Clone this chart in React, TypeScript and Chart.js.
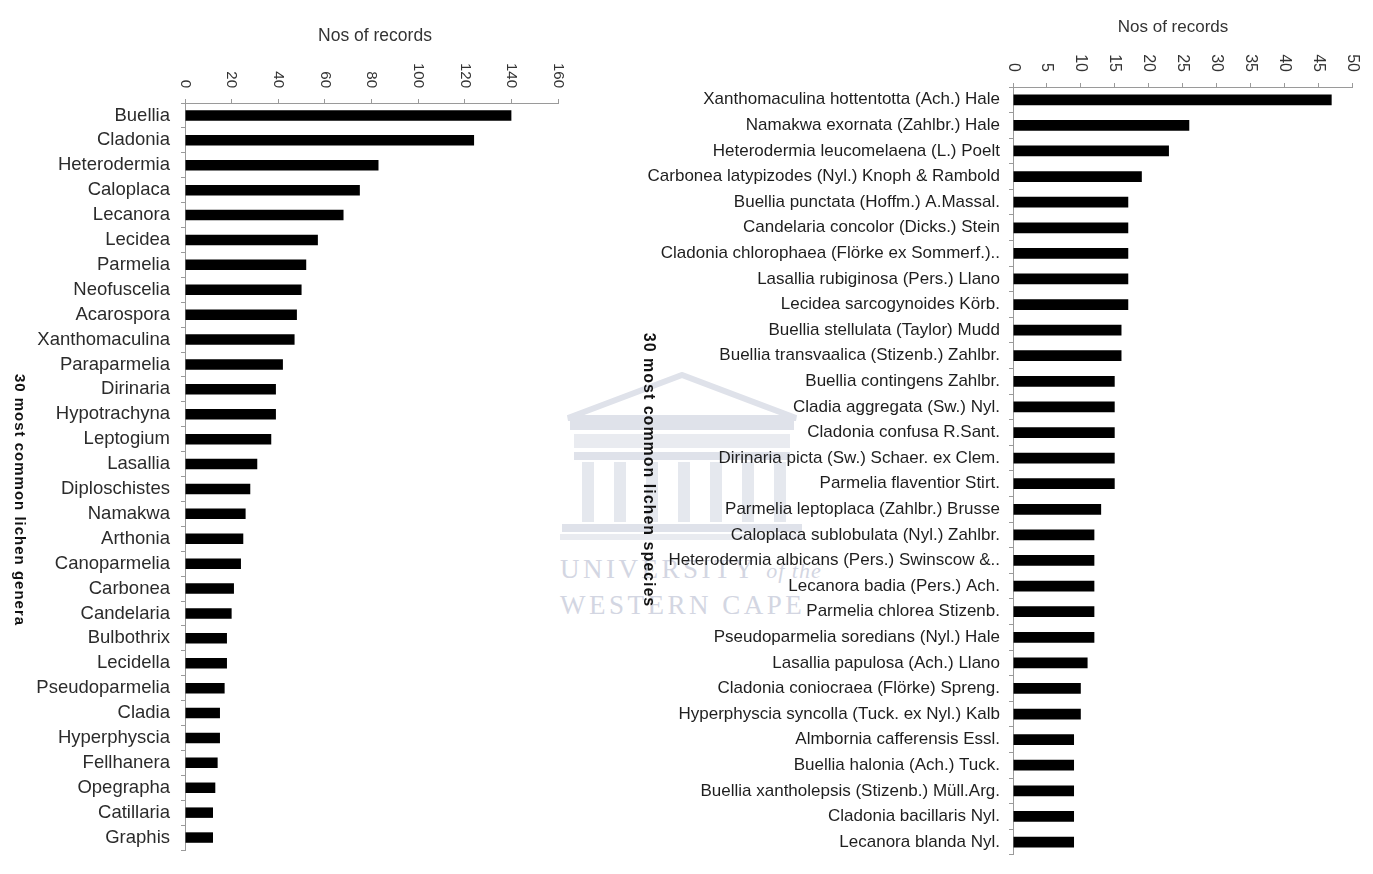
import React, { useEffect, useRef } from "react";
import { Chart, registerables } from "chart.js";

Chart.register(...registerables);

const FONT = '"Liberation Sans", Arial, Helvetica, sans-serif';

const genera = [
  "Buellia", "Cladonia", "Heterodermia", "Caloplaca", "Lecanora", "Lecidea",
  "Parmelia", "Neofuscelia", "Acarospora", "Xanthomaculina", "Paraparmelia",
  "Dirinaria", "Hypotrachyna", "Leptogium", "Lasallia", "Diploschistes",
  "Namakwa", "Arthonia", "Canoparmelia", "Carbonea", "Candelaria", "Bulbothrix",
  "Lecidella", "Pseudoparmelia", "Cladia", "Hyperphyscia", "Fellhanera",
  "Opegrapha", "Catillaria", "Graphis",
];
const generaCounts = [
  140, 124, 83, 75, 68, 57, 52, 50, 48, 47, 42, 39, 39, 37, 31, 28, 26, 25, 24,
  21, 20, 18, 18, 17, 15, 15, 14, 13, 12, 12,
];
const generaAxisMax = 160;
const generaAxisStep = 20;

const species = [
  "Xanthomaculina hottentotta (Ach.) Hale",
  "Namakwa exornata (Zahlbr.) Hale",
  "Heterodermia leucomelaena (L.) Poelt",
  "Carbonea latypizodes (Nyl.) Knoph & Rambold",
  "Buellia punctata (Hoffm.) A.Massal.",
  "Candelaria concolor (Dicks.) Stein",
  "Cladonia chlorophaea (Flörke ex Sommerf.)..",
  "Lasallia rubiginosa (Pers.) Llano",
  "Lecidea sarcogynoides Körb.",
  "Buellia stellulata (Taylor) Mudd",
  "Buellia transvaalica (Stizenb.) Zahlbr.",
  "Buellia contingens Zahlbr.",
  "Cladia aggregata (Sw.) Nyl.",
  "Cladonia confusa R.Sant.",
  "Dirinaria picta (Sw.) Schaer. ex Clem.",
  "Parmelia flaventior Stirt.",
  "Parmelia leptoplaca (Zahlbr.) Brusse",
  "Caloplaca sublobulata (Nyl.) Zahlbr.",
  "Heterodermia albicans (Pers.) Swinscow &..",
  "Lecanora badia (Pers.) Ach.",
  "Parmelia chlorea Stizenb.",
  "Pseudoparmelia soredians (Nyl.) Hale",
  "Lasallia papulosa (Ach.) Llano",
  "Cladonia coniocraea (Flörke) Spreng.",
  "Hyperphyscia syncolla (Tuck. ex Nyl.) Kalb",
  "Almbornia cafferensis Essl.",
  "Buellia halonia (Ach.) Tuck.",
  "Buellia xantholepsis (Stizenb.) Müll.Arg.",
  "Cladonia bacillaris Nyl.",
  "Lecanora blanda Nyl.",
];
const speciesCounts = [
  47, 26, 23, 19, 17, 17, 17, 17, 17, 16, 16, 15, 15, 15, 15, 15, 13, 12, 12,
  12, 12, 12, 11, 10, 10, 9, 9, 9, 9, 9,
];
const speciesAxisMax = 50;
const speciesAxisStep = 5;

const xTitle = "Nos of records";
const generaTitle = "30 most common lichen genera";
const speciesTitle = "30 most common lichen species";

const decorPlugin = {
  id: "decor",
  afterDraw(chart: any, _args: any, opts: any) {
    const { ctx, chartArea } = chart;
    const xs = chart.scales.x;
    ctx.save();
    ctx.fillStyle = opts.tickColor;
    ctx.font = `${opts.tickSize}px ${FONT}`;
    xs.ticks.forEach((t: any) => {
      const px = xs.getPixelForValue(t.value);
      ctx.save();
      ctx.translate(px, chartArea.top - opts.tickGap);
      ctx.rotate(Math.PI / 2);
      ctx.textAlign = "right";
      ctx.textBaseline = "middle";
      ctx.fillText(String(t.value), 0, 0);
      ctx.restore();
    });
    // x axis title
    ctx.save();
    ctx.fillStyle = "#333";
    ctx.font = `${opts.xTitleSize}px ${FONT}`;
    ctx.textAlign = "center";
    ctx.textBaseline = "middle";
    ctx.fillText(opts.xTitle, opts.xTitleX, opts.xTitleY);
    ctx.restore();
    // y axis title (rotated clockwise)
    ctx.save();
    ctx.translate(opts.titleX, opts.titleY);
    ctx.rotate(Math.PI / 2);
    ctx.fillStyle = "#111";
    ctx.font = `bold ${opts.titleSize}px ${FONT}`;
    try {
      (ctx as any).letterSpacing = opts.titleSpacing;
    } catch (e) {}
    ctx.textAlign = "center";
    ctx.textBaseline = "middle";
    ctx.fillText(opts.title, 0, 0);
    ctx.restore();
    ctx.restore();
  },
};

type Cfg = {
  labels: string[];
  values: number[];
  max: number;
  step: number;
  width: number;
  height: number;
  yAxisWidth: number;
  xAxisHeight: number;
  padRight: number;
  padBottom: number;
  labelSize: number;
  labelColor: string;
  labelPad: number;
  tickSize: number;
  tickGap: number;
  titleX: number;
  titleY: number;
  titleSize: number;
  titleSpacing: string;
  title: string;
  xTitleSize: number;
  xTitleX: number;
  xTitleY: number;
  barPct: number;
};

function BarPanel({ cfg, style }: { cfg: Cfg; style: React.CSSProperties }) {
  const ref = useRef<HTMLCanvasElement | null>(null);
  useEffect(() => {
    if (!ref.current) return;
    const chart = new Chart(ref.current, {
      type: "bar",
      data: {
        labels: cfg.labels,
        datasets: [
          {
            data: cfg.values,
            backgroundColor: "#000",
            borderWidth: 0,
            barPercentage: cfg.barPct,
            categoryPercentage: 1,
          },
        ],
      },
      options: {
        indexAxis: "y",
        animation: false,
        responsive: false,
        maintainAspectRatio: false,
        events: [],
        layout: {
          padding: { left: 0, top: 0, right: cfg.padRight, bottom: cfg.padBottom },
        },
        plugins: {
          legend: { display: false },
          tooltip: { enabled: false },
          decor: {
            tickColor: "#333",
            tickSize: cfg.tickSize,
            tickGap: cfg.tickGap,
            titleX: cfg.titleX,
            titleY: cfg.titleY,
            titleSize: cfg.titleSize,
            titleSpacing: cfg.titleSpacing,
            title: cfg.title,
            xTitle: xTitle,
            xTitleSize: cfg.xTitleSize,
            xTitleX: cfg.xTitleX,
            xTitleY: cfg.xTitleY,
          },
        } as any,
        scales: {
          x: {
            position: "top",
            min: 0,
            max: cfg.max,
            ticks: { stepSize: cfg.step, display: false },
            grid: {
              display: true,
              drawOnChartArea: false,
              drawTicks: true,
              tickLength: 4,
              color: "#9a9a9a",
            },
            border: { display: true, color: "#9a9a9a", width: 1 },
            afterFit: (s: any) => {
              s.height = cfg.xAxisHeight;
            },
          },
          y: {
            position: "left",
            ticks: {
              autoSkip: false,
              color: cfg.labelColor,
              padding: cfg.labelPad,
              font: { family: FONT, size: cfg.labelSize },
            },
            grid: {
              display: true,
              drawOnChartArea: false,
              drawTicks: true,
              tickLength: 4,
              color: "#9a9a9a",
              offset: true,
            },
            border: { display: true, color: "#9a9a9a", width: 1 },
            afterFit: (s: any) => {
              s.width = cfg.yAxisWidth;
            },
          },
        },
      },
      plugins: [decorPlugin as any],
    });
    return () => chart.destroy();
  }, []);
  return (
    <canvas
      ref={ref}
      width={cfg.width}
      height={cfg.height}
      style={{ position: "absolute", width: cfg.width, height: cfg.height, ...style }}
    />
  );
}

const leftCfg: Cfg = {
  labels: genera,
  values: generaCounts,
  max: generaAxisMax,
  step: generaAxisStep,
  width: 600,
  height: 874,
  yAxisWidth: 185,
  xAxisHeight: 103,
  padRight: 42,
  padBottom: 24,
  labelSize: 18.5,
  labelColor: "#2b2b2b",
  labelPad: 11,
  tickSize: 15,
  tickGap: 15,
  titleX: 19,
  titleY: 500,
  titleSize: 15,
  titleSpacing: "1px",
  title: generaTitle,
  xTitleSize: 17.5,
  xTitleX: 375,
  xTitleY: 36,
  barPct: 0.42,
};

const rightCfg: Cfg = {
  labels: species,
  values: speciesCounts,
  max: speciesAxisMax,
  step: speciesAxisStep,
  width: 773,
  height: 874,
  yAxisWidth: 413,
  xAxisHeight: 87,
  padRight: 21,
  padBottom: 16,
  labelSize: 17,
  labelColor: "#1e1e1e",
  labelPad: 9,
  tickSize: 16,
  tickGap: 15,
  titleX: 48,
  titleY: 470,
  titleSize: 16,
  titleSpacing: "1px",
  title: speciesTitle,
  xTitleSize: 17,
  xTitleX: 573,
  xTitleY: 27,
  barPct: 0.42,
};

function Watermark() {
  const c = "#dfe2ea";
  const cols = [0, 1, 2, 3, 4, 5, 6];
  return (
    <div style={{ position: "absolute", left: 560, top: 372, width: 250, height: 250 }}>
      <svg width={245} height={172} style={{ position: "absolute", left: 0, top: 0 }}>
        <polygon points="8,46 122,3 236,46" fill="none" stroke={c} strokeWidth={6} />
        <rect x={10} y={48} width={224} height={10} fill={c} />
        <rect x={14} y={62} width={216} height={14} fill={c} opacity={0.7} />
        <rect x={14} y={80} width={216} height={8} fill={c} />
        {cols.map((i) => (
          <rect key={i} x={22 + i * 32} y={90} width={12} height={60} fill={c} opacity={0.8} />
        ))}
        <rect x={2} y={152} width={240} height={8} fill={c} />
        <rect x={0} y={162} width={244} height={6} fill={c} opacity={0.7} />
      </svg>
      <div
        style={{
          position: "absolute",
          left: 0,
          top: 180,
          fontFamily: '"Liberation Serif", "DejaVu Serif", serif',
          fontSize: 27,
          letterSpacing: 3.5,
          color: "#d3d6e2",
          whiteSpace: "nowrap",
          lineHeight: "35px",
        }}
      >
        <div>
          UNIVERSITY <span style={{ fontStyle: "italic", fontSize: 22, letterSpacing: 1 }}>of the</span>
        </div>
        <div>WESTERN CAPE</div>
      </div>
    </div>
  );
}

export default function App() {
  return (
    <div
      style={{
        position: "fixed",
        left: 0,
        top: 0,
        width: 1373,
        height: 874,
        background: "#fff",
        overflow: "hidden",
      }}
    >
      <Watermark />
      <BarPanel cfg={leftCfg} style={{ left: 0, top: 0 }} />
      <BarPanel cfg={rightCfg} style={{ left: 600, top: 0 }} />
    </div>
  );
}
